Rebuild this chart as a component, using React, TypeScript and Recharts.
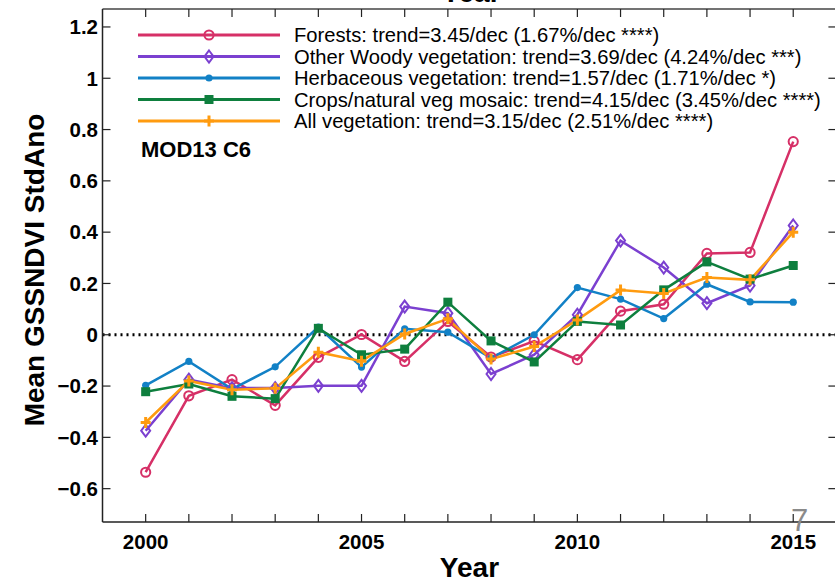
import React from 'react';
import { LineChart, Line, XAxis, YAxis, ReferenceLine, Legend } from 'recharts';

// ---- data ----
const years = [2000, 2001, 2002, 2003, 2004, 2005, 2006, 2007, 2008, 2009, 2010, 2011, 2012, 2013, 2014, 2015];
const forests = [-0.536, -0.238, -0.175, -0.275, -0.088, 0.001, -0.104, 0.052, -0.087, -0.025, -0.097, 0.092, 0.119, 0.317, 0.321, 0.753];
const otherWoody = [-0.374, -0.175, -0.208, -0.208, -0.199, -0.199, 0.11, 0.084, -0.153, -0.078, 0.078, 0.367, 0.262, 0.123, 0.192, 0.426];
const herbaceous = [-0.197, -0.104, -0.212, -0.125, 0.03, -0.126, 0.023, 0.01, -0.091, 0.0, 0.184, 0.139, 0.063, 0.197, 0.128, 0.127];
const crops = [-0.222, -0.192, -0.24, -0.249, 0.025, -0.078, -0.056, 0.127, -0.024, -0.106, 0.052, 0.038, 0.175, 0.284, 0.217, 0.27];
const allVeg = [-0.342, -0.18, -0.214, -0.209, -0.068, -0.103, 0.003, 0.062, -0.095, -0.046, 0.058, 0.174, 0.161, 0.223, 0.214, 0.4];

const seriesKeys = ['forests', 'otherWoody', 'herbaceous', 'crops', 'allVeg'];
const seriesNames = [
  'Forests: trend=3.45/dec (1.67%/dec ****)',
  'Other Woody vegetation: trend=3.69/dec (4.24%/dec ***)',
  'Herbaceous vegetation: trend=1.57/dec (1.71%/dec *)',
  'Crops/natural veg mosaic: trend=4.15/dec (3.45%/dec ****)',
  'All vegetation: trend=3.15/dec (2.51%/dec ****)',
];
const seriesColors = ['#d63067', '#7b40d0', '#1281c6', '#0e7f3e', '#ff9b0f'];
const seriesMarkers = ['circle', 'diamond', 'dot', 'square', 'plus'];

const yTicks = [-0.6, -0.4, -0.2, 0, 0.2, 0.4, 0.6, 0.8, 1, 1.2];
const yTickLabels = ['−0.6', '−0.4', '−0.2', '0', '0.2', '0.4', '0.6', '0.8', '1', '1.2'];
const xTicks = years;
const xLabeledYears = [2000, 2005, 2010, 2015];
const xDomain = [1999, 2016];
const yDomain = [-0.73, 1.27];

const yAxisTitle = 'Mean GSSNDVI StdAno';
const xAxisTitle = 'Year';
const annotation = 'MOD13 C6';
const pageNumber = '7';

const data = years.map((yr, i) => ({
  year: yr,
  forests: forests[i],
  otherWoody: otherWoody[i],
  herbaceous: herbaceous[i],
  crops: crops[i],
  allVeg: allVeg[i],
}));

// ---- layout ----
const FONT = '"Liberation Sans", Arial, Helvetica, sans-serif';
const W = 840;
const H = 580;
const PLOT_LEFT = 102.5;
const PLOT_TOP = 9;
const PLOT_RIGHT = 836.4;
const PLOT_BOTTOM = 522;
const TICK = 8;
const AXIS_COLOR = '#222';

function Marker({ kind, color, cx, cy }: { kind: string; color: string; cx: number; cy: number }) {
  switch (kind) {
    case 'circle':
      return <circle cx={cx} cy={cy} r={4.6} fill="none" stroke={color} strokeWidth={2} />;
    case 'diamond':
      return (
        <polygon
          points={`${cx},${cy - 6} ${cx + 4.5},${cy} ${cx},${cy + 6} ${cx - 4.5},${cy}`}
          fill="none"
          stroke={color}
          strokeWidth={2}
        />
      );
    case 'dot':
      return <circle cx={cx} cy={cy} r={3.6} fill={color} stroke="none" />;
    case 'square':
      return <rect x={cx - 4.5} y={cy - 4.5} width={9} height={9} fill={color} stroke="none" />;
    case 'plus':
      return (
        <path
          d={`M${cx - 5},${cy} H${cx + 5} M${cx},${cy - 5.5} V${cy + 5.5}`}
          stroke={color}
          strokeWidth={3}
          fill="none"
        />
      );
    default:
      return null;
  }
}

const makeDot = (kind: string, color: string) => (props: any) => {
  const { cx, cy, index } = props;
  if (cx == null || cy == null) return <g key={`${kind}-${index}`} />;
  return (
    <g key={`${kind}-${index}`}>
      <Marker kind={kind} color={color} cx={cx} cy={cy} />
    </g>
  );
};

const XTick = (props: any) => {
  const { x, y, payload } = props;
  const v = payload.value;
  const show = xLabeledYears.includes(v);
  return (
    <g>
      <line x1={x} x2={x} y1={y} y2={y - TICK} stroke={AXIS_COLOR} strokeWidth={1.2} />
      <line x1={x} x2={x} y1={PLOT_TOP} y2={PLOT_TOP + TICK} stroke={AXIS_COLOR} strokeWidth={1.2} />
      {show && (
        <text
          x={x}
          y={y + 27}
          textAnchor="middle"
          fontFamily={FONT}
          fontWeight="bold"
          fontSize={20.5}
          fill="#000"
        >
          {String(v)}
        </text>
      )}
    </g>
  );
};

const YTick = (props: any) => {
  const { x, y, payload } = props;
  const idx = yTicks.indexOf(payload.value);
  const label = idx >= 0 ? yTickLabels[idx] : String(payload.value);
  return (
    <g>
      <line x1={x} x2={x + TICK} y1={y} y2={y} stroke={AXIS_COLOR} strokeWidth={1.2} />
      <line x1={PLOT_RIGHT - TICK} x2={PLOT_RIGHT} y1={y} y2={y} stroke={AXIS_COLOR} strokeWidth={1.2} />
      <text
        x={x - 4.5}
        y={y + 7.3}
        textAnchor="end"
        fontFamily={FONT}
        fontWeight="bold"
        fontSize={20.5}
        fill="#000"
      >
        {label}
      </text>
    </g>
  );
};

const YTitle = () => (
  <text
    x={44}
    y={270}
    transform="rotate(-90 44 270)"
    textAnchor="middle"
    fontFamily={FONT}
    fontWeight="bold"
    fontSize={28}
    fill="#000"
  >
    {yAxisTitle}
  </text>
);

const XTitle = () => (
  <text
    x={(PLOT_LEFT + PLOT_RIGHT) / 2}
    y={577}
    textAnchor="middle"
    fontFamily={FONT}
    fontWeight="bold"
    fontSize={28}
    fill="#000"
  >
    {xAxisTitle}
  </text>
);

const LEG_X1 = 138;
const LEG_X2 = 280;
const LEG_TEXT_X = 294;
const LEG_Y0 = 35;
const LEG_DY = 21.5;

const LegendContent = () => (
  <svg width={835} height={580} style={{ position: 'absolute', left: 0, top: 0, pointerEvents: 'none' }}>
    {seriesKeys.map((k, i) => {
      const y = LEG_Y0 + i * LEG_DY;
      return (
        <g key={k}>
          <line x1={LEG_X1} x2={LEG_X2} y1={y} y2={y} stroke={seriesColors[i]} strokeWidth={3} />
          <Marker kind={seriesMarkers[i]} color={seriesColors[i]} cx={(LEG_X1 + LEG_X2) / 2} cy={y} />
          <text x={LEG_TEXT_X} y={y + 7} fontFamily={FONT} fontSize={20.2} fill="#000">
            {seriesNames[i]}
          </text>
        </g>
      );
    })}
    <text x={141} y={157} fontFamily={FONT} fontWeight="bold" fontSize={22} fill="#000">
      {annotation}
    </text>
    <text x={471} y={2} textAnchor="middle" fontFamily={FONT} fontWeight="bold" fontSize={28} fill="#000">
      {xAxisTitle}
    </text>
    <text x={791} y={531} fontFamily={FONT} fontSize={31} fill="#8a8a8a">
      {pageNumber}
    </text>
  </svg>
);

export default function App() {
  return (
    <div
      style={{
        position: 'absolute',
        left: 0,
        top: 0,
        width: 835,
        height: 580,
        overflow: 'hidden',
        background: '#fff',
      }}
    >
      <LineChart
        width={W}
        height={H}
        data={data}
        margin={{ top: PLOT_TOP, right: W - PLOT_RIGHT, bottom: 0, left: 0 }}
      >
        <XAxis
          type="number"
          dataKey="year"
          domain={xDomain}
          ticks={xTicks}
          allowDataOverflow
          height={H - PLOT_BOTTOM}
          tickSize={0}
          tickMargin={0}
          tickLine={false}
          axisLine={{ stroke: AXIS_COLOR, strokeWidth: 1.5 }}
          tick={<XTick />}
          interval={0}
          label={<XTitle />}
        />
        <YAxis
          type="number"
          domain={yDomain}
          ticks={yTicks}
          allowDataOverflow
          width={PLOT_LEFT}
          tickSize={0}
          tickMargin={0}
          tickLine={false}
          axisLine={{ stroke: AXIS_COLOR, strokeWidth: 1.5 }}
          tick={<YTick />}
          interval={0}
          label={<YTitle />}
        />
        <ReferenceLine y={yDomain[1]} stroke="#444" strokeWidth={1.5} />
        <ReferenceLine x={xDomain[1]} stroke="#444" strokeWidth={1.5} />
        <ReferenceLine y={0} stroke="#000" strokeWidth={3} strokeDasharray="2 4" />
        {seriesKeys.map((k, i) => (
          <Line
            key={k}
            type="linear"
            dataKey={k}
            name={seriesNames[i]}
            stroke={seriesColors[i]}
            strokeWidth={2.5}
            dot={makeDot(seriesMarkers[i], seriesColors[i])}
            activeDot={false}
            isAnimationActive={false}
          />
        ))}
        <Legend
          layout="vertical"
          align="center"
          verticalAlign="middle"
          content={<LegendContent />}
          wrapperStyle={{ position: 'absolute', left: 0, top: 0, width: 835, height: 580, pointerEvents: 'none' }}
        />
      </LineChart>
    </div>
  );
}
